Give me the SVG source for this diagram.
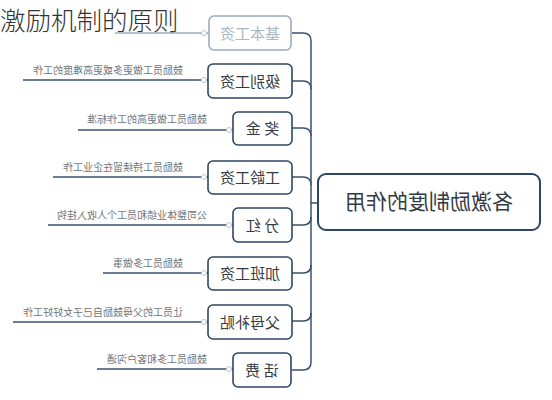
<svg xmlns="http://www.w3.org/2000/svg" width="552" height="400" viewBox="0 0 552 400">
<style>
.bg{fill:#ffffff}
.node rect{fill:#ffffff;stroke:#2e4663;stroke-width:1.6}
.node text{font-family:"Noto Sans CJK SC","Noto Sans",sans-serif;font-size:15px;fill:#333b44;text-anchor:middle}
.faded rect{stroke:#9aabbf}
.faded text{fill:#aab7c6}
.main rect{stroke-width:2}
.main text{font-size:21px}
.conn path{fill:none;stroke:#3a5270;stroke-width:1.5}
.conn path.light{stroke:#9aabbf}
.conn circle{fill:#ffffff;stroke:#b9c4cf;stroke-width:1}
.desc{font-family:"Noto Sans CJK SC","Noto Sans",sans-serif;font-size:10px;fill:#707579}
.title{font-family:"Noto Sans CJK SC","Noto Sans",sans-serif;font-size:25.5px;fill:#333333;font-weight:300}
</style>
<rect class="bg" width="552" height="400"/>
<g id="connectors" class="conn">
  <path d="M292,33 H303 Q311,33 311,41 V362 Q311,370 303,370 H292"/>
  <path d="M292,81 H303 Q311,81 311,89"/>
  <path d="M292,128 H303 Q311,128 311,136"/>
  <path d="M292,177 H303 Q311,177 311,185"/>
  <path d="M292,225 H303 Q311,225 311,217"/>
  <path d="M292,273 H303 Q311,273 311,265"/>
  <path d="M292,321 H303 Q311,321 311,313"/>
  <path d="M311,203 H318"/>
  <path class="light" d="M115,33 H208"/>
  <path d="M23,80 H208"/>
  <path d="M78,130 H233"/>
  <path d="M53,177 H208"/>
  <path d="M48,225 H233"/>
  <path d="M103,273 H208"/>
  <path d="M13,322 H208"/>
  <path d="M97,369 H233"/>
  <circle cx="204" cy="33" r="2.5"/>
  <circle cx="204" cy="80" r="2.5"/>
  <circle cx="229" cy="130" r="2.5"/>
  <circle cx="204" cy="177" r="2.5"/>
  <circle cx="229" cy="225" r="2.5"/>
  <circle cx="204" cy="273" r="2.5"/>
  <circle cx="204" cy="322" r="2.5"/>
  <circle cx="229" cy="369" r="2.5"/>
</g>
<g id="descriptions">
  <text class="desc" transform="scale(-1,1)" x="-183" y="74">鼓励员工做更多或更高难度的工作</text>
  <text class="desc" transform="scale(-1,1)" x="-207" y="123">鼓励员工做更高的工作标准</text>
  <text class="desc" transform="scale(-1,1)" x="-183" y="171">鼓励员工持续留在企业工作</text>
  <text class="desc" transform="scale(-1,1)" x="-207" y="219">公司整体业绩和员工个人收入挂钩</text>
  <text class="desc" transform="scale(-1,1)" x="-183" y="267">鼓励员工多做事</text>
  <text class="desc" transform="scale(-1,1)" x="-183" y="316">让员工的父母鼓励自己子女好好工作</text>
  <text class="desc" transform="scale(-1,1)" x="-207" y="363">鼓励员工多和客户沟通</text>
</g>
<g id="n-base" class="node faded"><rect x="209" y="16" width="82" height="34" rx="5"/><text transform="scale(-1,1)" x="-250" y="38.5">基本工资</text></g>
<g id="n-level" class="node"><rect x="208" y="64" width="84" height="34" rx="5"/><text transform="scale(-1,1)" x="-250" y="86.5">级别工资</text></g>
<g id="n-bonus" class="node"><rect x="233" y="112" width="59" height="33" rx="5"/><text transform="scale(-1,1)" x="-262.5" y="134">奖 金</text></g>
<g id="n-seniority" class="node"><rect x="208" y="161" width="84" height="33" rx="5"/><text transform="scale(-1,1)" x="-250" y="183">工龄工资</text></g>
<g id="n-dividend" class="node"><rect x="233" y="208" width="59" height="34" rx="5"/><text transform="scale(-1,1)" x="-262.5" y="230.5">分 红</text></g>
<g id="n-overtime" class="node"><rect x="208" y="257" width="84" height="33" rx="5"/><text transform="scale(-1,1)" x="-250" y="279">加班工资</text></g>
<g id="n-parents" class="node"><rect x="208" y="305" width="84" height="34" rx="5"/><text transform="scale(-1,1)" x="-250" y="327.5">父母补贴</text></g>
<g id="n-phone" class="node"><rect x="233" y="353" width="58" height="34" rx="5"/><text transform="scale(-1,1)" x="-262" y="375.5">话 费</text></g>
<g id="n-main" class="node main"><rect x="318" y="174" width="222" height="56" rx="8"/><text transform="scale(-1,1)" x="-429" y="209">各激励制度的作用</text></g>
<text class="title" x="0" y="30">激励机制的原则</text>
</svg>
